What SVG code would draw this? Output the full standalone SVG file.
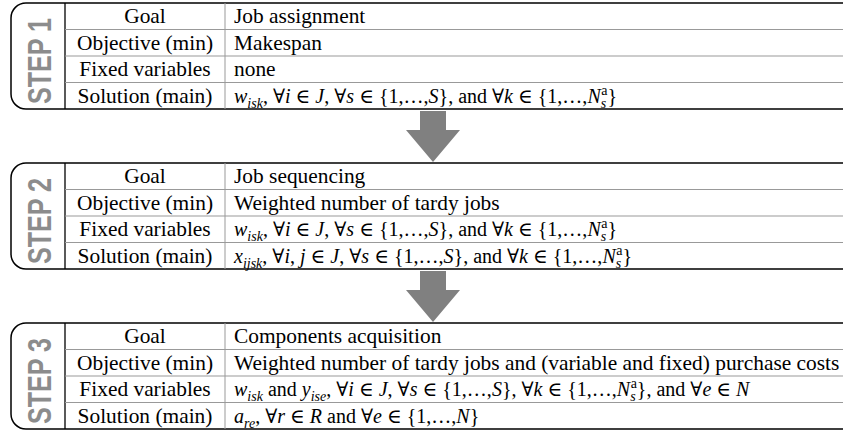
<svg xmlns="http://www.w3.org/2000/svg" width="845" height="432" viewBox="0 0 845 432">
<style>
.t{font-family:"Liberation Serif","Times New Roman","DejaVu Serif",serif;font-size:21.4px;fill:#000}
.m{font-size:20px}
.c{text-anchor:middle}
.i{font-style:italic}
.sub{font-size:14px}
.step{font-family:"Liberation Sans",Arial,sans-serif;font-weight:bold;font-size:34px;fill:#8c8c8c;text-anchor:middle}
.outer{fill:none;stroke:#000;stroke-width:1.5}
.sep{stroke:#000;stroke-width:1.3}
.grid{stroke:#999;stroke-width:1}
.arrow{fill:#808080}
</style>
<defs>
<g id="frame">
<path class="outer" d="M843,0 H26 A15,15 0 0 0 11,15 V91 A15,15 0 0 0 26,106 H843"/>
<line class="sep" x1="65" y1="0" x2="65" y2="106"/>
<line class="grid" x1="225" y1="0" x2="225" y2="106"/>
<line class="grid" x1="65" y1="26.5" x2="843" y2="26.5"/>
<line class="grid" x1="65" y1="53" x2="843" y2="53"/>
<line class="grid" x1="65" y1="79.5" x2="843" y2="79.5"/>
<text class="t c" x="145" y="20">Goal</text>
<text class="t c" x="145" y="46.5">Objective (min)</text>
<text class="t c" x="145" y="73">Fixed variables</text>
<text class="t c" x="145" y="99.5">Solution (main)</text>
</g>
</defs>
<g id="connectors">
<polygon class="arrow" points="420,111 446,111 446,130 460,130 433,162 406,130 420,130"/>
<polygon class="arrow" points="420,271 446,271 446,290 460,290 433,322 406,290 420,290"/>
</g>
<g id="step1" transform="translate(0,3)">
<use href="#frame"/>
<text class="step" transform="translate(51,58) rotate(-90)" textLength="86" lengthAdjust="spacingAndGlyphs">STEP 1</text>
<text class="t" x="234" y="20">Job assignment</text>
<text class="t" x="234" y="46.5">Makespan</text>
<text class="t" x="234" y="73">none</text>
<text class="t m" x="234" y="99.5"><tspan class="i">w</tspan><tspan class="i sub" dy="5">isk</tspan><tspan dy="-5">, ∀</tspan><tspan class="i">i</tspan> ∈ <tspan class="i">J</tspan>, ∀<tspan class="i">s</tspan> ∈ {1,…,<tspan class="i">S</tspan>}, and ∀<tspan class="i">k</tspan> ∈ {1,…,<tspan class="i">N</tspan><tspan class="i sub" dy="5">s</tspan><tspan class="sub" dx="-5" dy="-13">a</tspan><tspan dy="8">}</tspan></text>
</g>
<g id="step2" transform="translate(0,163)">
<use href="#frame"/>
<text class="step" transform="translate(51,58) rotate(-90)" textLength="86" lengthAdjust="spacingAndGlyphs">STEP 2</text>
<text class="t" x="234" y="20">Job sequencing</text>
<text class="t" x="234" y="46.5">Weighted number of tardy jobs</text>
<text class="t m" x="234" y="73"><tspan class="i">w</tspan><tspan class="i sub" dy="5">isk</tspan><tspan dy="-5">, ∀</tspan><tspan class="i">i</tspan> ∈ <tspan class="i">J</tspan>, ∀<tspan class="i">s</tspan> ∈ {1,…,<tspan class="i">S</tspan>}, and ∀<tspan class="i">k</tspan> ∈ {1,…,<tspan class="i">N</tspan><tspan class="i sub" dy="5">s</tspan><tspan class="sub" dx="-5" dy="-13">a</tspan><tspan dy="8">}</tspan></text>
<text class="t m" x="234" y="99.5"><tspan class="i">x</tspan><tspan class="i sub" dy="5">ijsk</tspan><tspan dy="-5">, ∀</tspan><tspan class="i">i</tspan>, <tspan class="i">j</tspan> ∈ <tspan class="i">J</tspan>, ∀<tspan class="i">s</tspan> ∈ {1,…,<tspan class="i">S</tspan>}, and ∀<tspan class="i">k</tspan> ∈ {1,…,<tspan class="i">N</tspan><tspan class="i sub" dy="5">s</tspan><tspan class="sub" dx="-5" dy="-13">a</tspan><tspan dy="8">}</tspan></text>
</g>
<g id="step3" transform="translate(0,323)">
<use href="#frame"/>
<text class="step" transform="translate(51,58) rotate(-90)" textLength="86" lengthAdjust="spacingAndGlyphs">STEP 3</text>
<text class="t" x="234" y="20">Components acquisition</text>
<text class="t" x="234" y="46.5">Weighted number of tardy jobs and (variable and fixed) purchase costs</text>
<text class="t m" x="234" y="73"><tspan class="i">w</tspan><tspan class="i sub" dy="5">isk</tspan><tspan dy="-5"> and </tspan><tspan class="i">y</tspan><tspan class="i sub" dy="5">ise</tspan><tspan dy="-5">, ∀</tspan><tspan class="i">i</tspan> ∈ <tspan class="i">J</tspan>, ∀<tspan class="i">s</tspan> ∈ {1,…,<tspan class="i">S</tspan>}, ∀<tspan class="i">k</tspan> ∈ {1,…,<tspan class="i">N</tspan><tspan class="i sub" dy="5">s</tspan><tspan class="sub" dx="-5" dy="-13">a</tspan><tspan dy="8">}, and ∀</tspan><tspan class="i">e</tspan> ∈ <tspan class="i">N</tspan></text>
<text class="t m" x="234" y="99.5"><tspan class="i">a</tspan><tspan class="i sub" dy="5">re</tspan><tspan dy="-5">, ∀</tspan><tspan class="i">r</tspan> ∈ <tspan class="i">R</tspan> and ∀<tspan class="i">e</tspan> ∈ {1,…,<tspan class="i">N</tspan>}</text>
</g>
</svg>
